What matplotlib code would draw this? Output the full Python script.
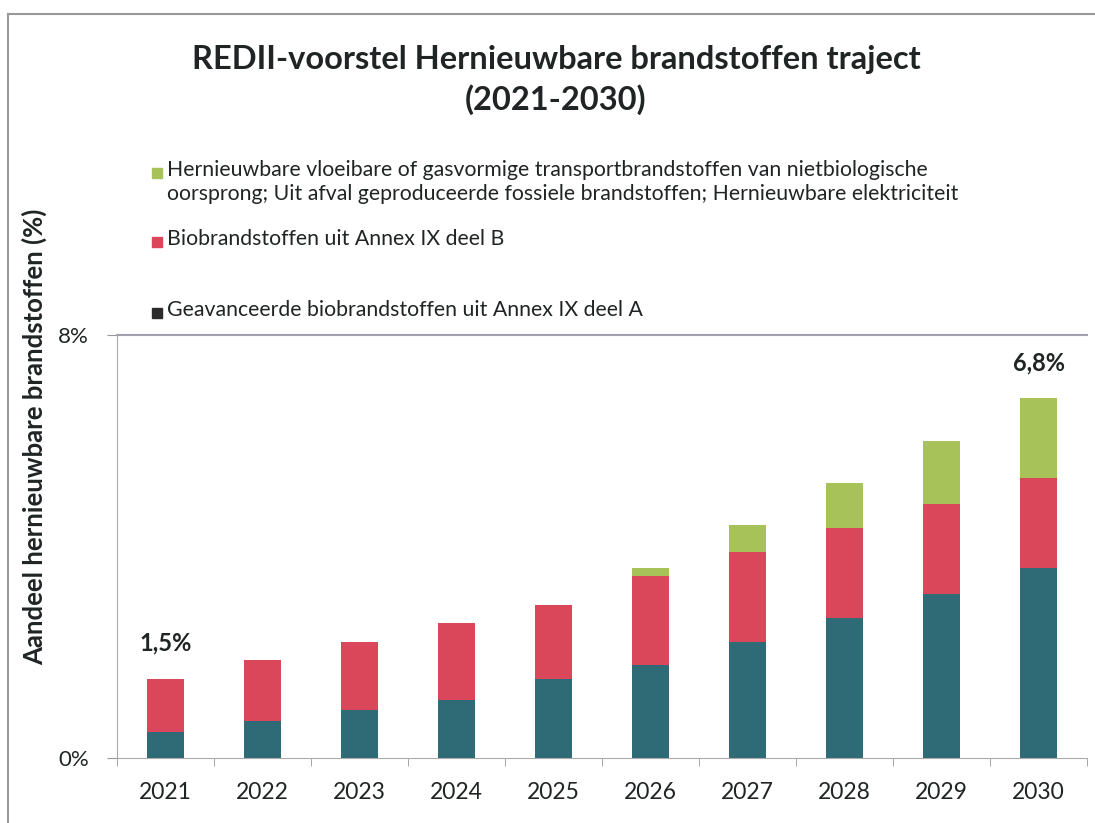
import matplotlib.pyplot as plt
import numpy as np
from matplotlib.patches import Rectangle
from matplotlib.lines import Line2D

plt.rcParams['font.family'] = ['Lato', 'DejaVu Sans']

years = ['2021', '2022', '2023', '2024', '2025', '2026', '2027', '2028', '2029', '2030']
deel_a = [0.5, 0.7, 0.9, 1.1, 1.5, 1.75, 2.2, 2.65, 3.1, 3.6]
deel_b = [1.0, 1.15, 1.3, 1.45, 1.4, 1.7, 1.7, 1.7, 1.7, 1.7]
overig = [0.0, 0.0, 0.0, 0.0, 0.0, 0.15, 0.5, 0.85, 1.2, 1.5]

legend_labels = [
    'Hernieuwbare vloeibare of gasvormige transportbrandstoffen van nietbiologische\n'
    'oorsprong; Uit afval geproduceerde fossiele brandstoffen; Hernieuwbare elektriciteit',
    'Biobrandstoffen uit Annex IX deel B',
    'Geavanceerde biobrandstoffen uit Annex IX deel A',
]

c_teal = '#2f6b77'
c_red = '#da475b'
c_green = '#a8c25a'
c_text = '#202424'

W, H = 1095, 823
fig = plt.figure(figsize=(W / 100, H / 100), dpi=100)
ax = fig.add_axes([117 / W, 1 - 758 / H, (1087 - 117) / W, (758 - 335) / H])

x = np.arange(len(years))
a = np.array(deel_a)
b = np.array(deel_b)
g = np.array(overig)
bw = 0.39
ax.bar(x, a, bw, color=c_teal)
ax.bar(x, b, bw, bottom=a, color=c_red)
ax.bar(x, g, bw, bottom=a + b, color=c_green)

ax.set_xlim(-0.5, 9.5)
ax.set_ylim(0, 8)
ax.set_yticks([0, 8])
ax.set_yticklabels(['0%', '8%'], fontsize=16, color=c_text)
ax.set_xticks(x)
ax.set_xticklabels(years, fontsize=16.5, color=c_text)
ax.tick_params(axis='x', length=0, pad=17)
ax.tick_params(axis='y', length=7, color='#999999', pad=13)
ax.set_xticks(np.arange(-0.5, 10, 1), minor=True)
ax.tick_params(axis='x', which='minor', length=6, color='#999999')

for s in ['top', 'right']:
    ax.spines[s].set_visible(False)
ax.spines['left'].set_color('#aaaaaa')
ax.spines['bottom'].set_color('#aaaaaa')
ax.axhline(8, color='#a0a0b0', lw=1.5, clip_on=False)

tot = a + b + g
ax.text(x[0], tot[0] + 0.45, '1,5%', ha='center', va='bottom', fontsize=17,
        fontweight='bold', color=c_text)
ax.text(x[-1], tot[-1] + 0.45, '6,8%', ha='center', va='bottom', fontsize=17,
        fontweight='bold', color=c_text)

ax.set_ylabel('Aandeel hernieuwbare brandstoffen (%)', fontsize=18.5,
              fontweight='bold', color=c_text)
ax.yaxis.set_label_coords(-70 / (1087 - 117), (758 - 437) / (758 - 335))

fig.text(556 / W, 1 - 60 / H, 'REDII-voorstel Hernieuwbare brandstoffen traject',
         ha='center', va='center', fontsize=23.5, fontweight='bold', color=c_text)
fig.text(556 / W, 1 - 100 / H, '(2021-2030)',
         ha='center', va='center', fontsize=23.5, fontweight='bold', color=c_text)

# legend drawn by hand, spacing is uneven in the original
leg_colors = [c_green, c_red, '#2b2b2b']
leg_y = [173, 242, 313]
for col, lab, yy in zip(leg_colors, legend_labels, leg_y):
    fig.patches.append(Rectangle((152 / W, 1 - (yy + 5) / H), 10 / W, 10 / H,
                                 transform=fig.transFigure, color=col))
    fig.text(167 / W, 1 - (yy - 13) / H, lab, ha='left', va='top', fontsize=15.3,
             color=c_text, linespacing=1.25)

# outer frame
fig.lines.append(Line2D([8 / W, 8 / W], [0, 1 - 14 / H], transform=fig.transFigure,
                        color='#999999', lw=1.5))
fig.lines.append(Line2D([8 / W, 1], [1 - 14 / H, 1 - 14 / H], transform=fig.transFigure,
                        color='#999999', lw=1.5))

fig.savefig('out.png', dpi=100)
